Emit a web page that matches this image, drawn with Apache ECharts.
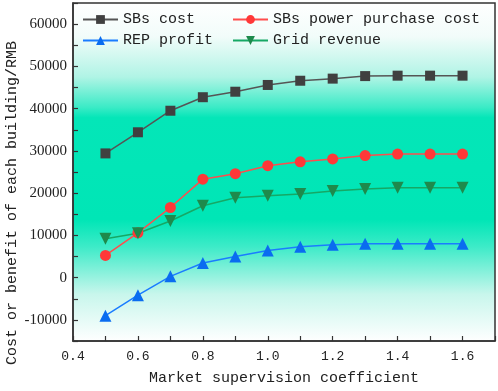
<!DOCTYPE html>
<html><head><meta charset="utf-8">
<script src="https://cdn.jsdelivr.net/npm/echarts@6/dist/echarts.min.js"></script>
<style>html,body{margin:0;padding:0;background:#fff}#c{width:498px;height:391px}</style>
</head><body><div id="c"></div>
<script>
const xValues = [0.5,0.6,0.7,0.8,0.9,1.0,1.1,1.2,1.3,1.4,1.5,1.6];
const sbsCost = [29400,34400,39500,42700,44000,45600,46600,47100,47700,47800,47800,47800];
const sbsPurchase = [5250,10600,16600,23300,24600,26500,27400,28100,28900,29250,29250,29250];
const repProfit = [-9000,-4150,300,3450,5000,6400,7300,7800,8000,8000,8000,8000];
const gridRevenue = [9200,10500,13400,17000,18900,19350,19800,20500,21000,21250,21300,21300];
const seriesNames = ['SBs cost','SBs power purchase cost','REP profit','Grid revenue'];
const xTitle = 'Market supervision coefficient';
const yTitle = 'Cost or benefit of each building/RMB';

const chart = echarts.init(document.getElementById('c'));
const pair = a => xValues.map((x,i)=>[x,a[i]]);
const mono = 'Liberation Mono';
const legendText = {fontFamily: mono, fontSize: 15, color: '#222'};
function leg(name, left, top){
  return {data:[name], left:left, top:top, itemWidth:35, itemHeight:11, itemGap:0,
    textStyle: legendText, padding:0, selectedMode:false};
}
chart.setOption({
  animation:false,
  grid:{left:73, top:3, right:3, bottom:48, show:true, borderColor:'#333', borderWidth:1.5,
    backgroundColor: new echarts.graphic.LinearGradient(0,0,0,1,[
      {offset:0, color:'#ffffff'},
      {offset:0.1, color:'#f2fcfa'},
      {offset:0.22, color:'#b0f4e5'},
      {offset:0.31, color:'#3aebc6'},
      {offset:0.34, color:'#04e6b8'},
      {offset:0.64, color:'#00e6b6'},
      {offset:0.72, color:'#3debc8'},
      {offset:0.86, color:'#c8f6ec'},
      {offset:1, color:'#ffffff'}])},
  legend:[leg(seriesNames[0],82,12), leg(seriesNames[1],232,12), leg(seriesNames[2],82,33), leg(seriesNames[3],232,33)],
  xAxis:{type:'value', min:0.4, max:1.7, interval:0.1,
    name:xTitle, nameLocation:'middle', nameGap:30,
    nameTextStyle:{fontFamily:mono, fontSize:15, color:'#222'},
    axisLine:{onZero:false, lineStyle:{color:'#333', width:1.5}},
    axisTick:{inside:true, length:5, lineStyle:{color:'#333', width:1.2}},
    axisLabel:{fontFamily:mono, fontSize:13, color:'#222', margin:9,
      formatter:v=>{const t=Math.round(v*10); return (t%2===0 && t<=16)? (t/10).toFixed(1):'';}},
    splitLine:{show:false}},
  yAxis:{type:'value', min:-15000, max:65000, interval:5000,
    axisLine:{show:true, onZero:false, lineStyle:{color:'#333', width:1.5}},
    axisTick:{show:true, inside:true, length:5, lineStyle:{color:'#333', width:1.2}},
    axisLabel:{fontFamily:'Liberation Serif', fontSize:15, color:'#222', margin:6,
      formatter:v=>(Math.round(v)%10000===0 && v<=60000 && v>=-10000)? String(v):''},
    splitLine:{show:false}},
  graphic:[{type:'text', x:12, y:203, rotation:Math.PI/2,
    style:{text:yTitle, fontFamily:mono, fontSize:15, fill:'#222', align:'center', verticalAlign:'middle'}}],
  series:[
    {name:seriesNames[0], type:'line', data:pair(sbsCost), symbol:'rect', symbolSize:10,
      lineStyle:{color:'#555', width:1.5}, itemStyle:{color:'#404040'}},
    {name:seriesNames[1], type:'line', data:pair(sbsPurchase), symbol:'circle', symbolSize:11,
      lineStyle:{color:'#ff4d4d', width:1.5}, itemStyle:{color:'#ff3838'}},
    {name:seriesNames[2], type:'line', data:pair(repProfit), symbol:'triangle', symbolSize:12,
      lineStyle:{color:'#1a7cff', width:1.5}, itemStyle:{color:'#0a6cf0'}},
    {name:seriesNames[3], type:'line', data:pair(gridRevenue), symbol:'triangle', symbolRotate:180, symbolSize:12,
      lineStyle:{color:'#16a865', width:1.5}, itemStyle:{color:'#1e8a4c'}}
  ]
});
</script></body></html>
